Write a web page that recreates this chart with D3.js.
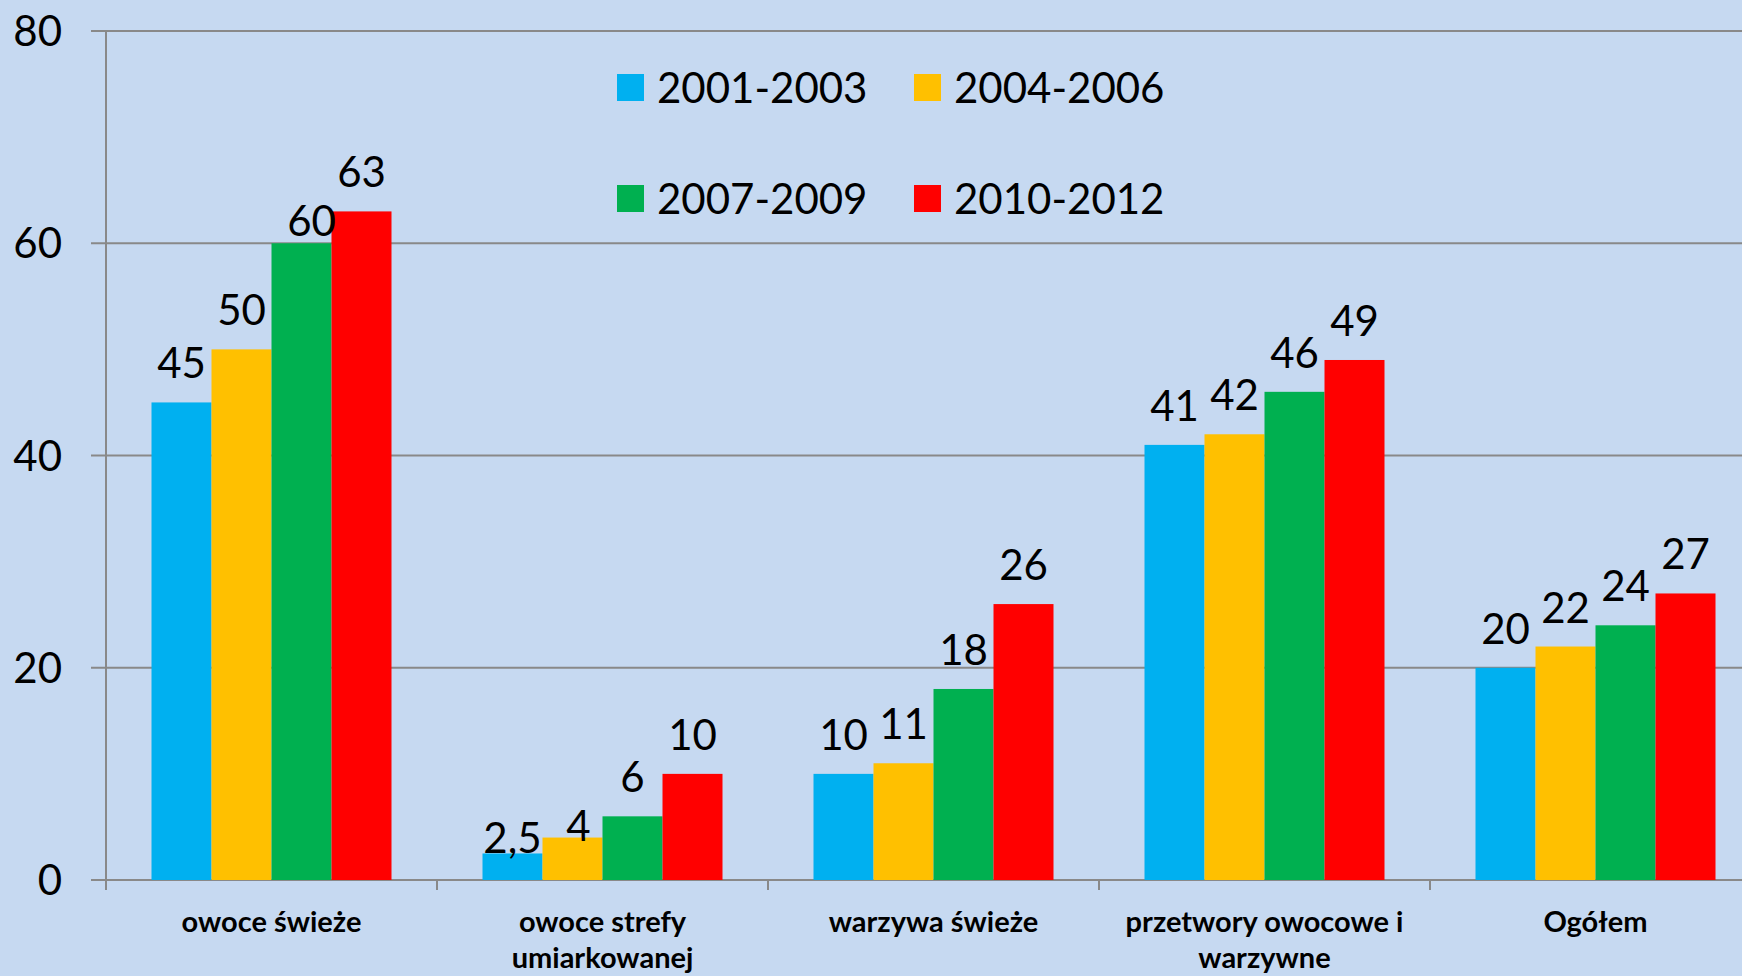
<!DOCTYPE html>
<html>
<head>
<meta charset="utf-8">
<script src="https://cdn.jsdelivr.net/npm/d3@7"></script>
<style>
html,body{margin:0;padding:0;background:#c6d9f1;overflow:hidden;}
text{font-family:Lato,"Open Sans",sans-serif;fill:#000;}
</style>
</head>
<body>
<div id="chart"></div>
<script>
var w=1742;
var h=976;

var categories=[["owoce świeże"],["owoce strefy","umiarkowanej"],["warzywa świeże"],["przetwory owocowe i","warzywne"],["Ogółem"]];
var series=["2001-2003","2004-2006","2007-2009","2010-2012"];
var colors=["#00b0f0","#ffc000","#00b050","#ff0000"];
var v2001=[45,2.5,10,41,20];
var v2004=[50,4,11,42,22];
var v2007=[60,6,18,46,24];
var v2010=[63,10,26,49,27];
var yTicks=[0,20,40,60,80];

var values=[v2001,v2004,v2007,v2010];
var fmt=function(v){return String(v).replace(".",",");};

// hand-moved labels in the original
var nudge={"0-2":[10,17],"1-0":[0,24],"1-1":[6,27]};

var svg=d3.select("#chart").append("svg")
          .attr("width",w)
          .attr("height",h);

svg.append("rect").attr("width",w).attr("height",h).attr("fill","#c6d9f1");

var x0=d3.scaleBand()
         .domain(d3.range(categories.length))
         .range([106,106+331*categories.length])
         .padding(0);

var x1=d3.scaleBand()
         .domain(d3.range(series.length))
         .range([45.5,x0.bandwidth()-45.5])
         .padding(0);

var y=d3.scaleLinear()
        .domain([0,80])
        .range([880,31]);

// gridlines
svg.append("g")
   .selectAll("line")
   .data(yTicks)
   .enter().append("line")
     .attr("x1",91)
     .attr("x2",w)
     .attr("y1",function(d){return y(d);})
     .attr("y2",function(d){return y(d);})
     .attr("stroke","#898989")
     .attr("stroke-width",2);

// y axis line
svg.append("line")
   .attr("x1",106).attr("x2",106)
   .attr("y1",y(80)).attr("y2",y(0)+10)
   .attr("stroke","#898989")
   .attr("stroke-width",2);

svg.append("g")
   .selectAll("text")
   .data(yTicks)
   .enter().append("text")
     .attr("x",62)
     .attr("y",function(d){return y(d);})
     .attr("dy","0.36em")
     .attr("text-anchor","end")
     .style("font-size","42px")
     .text(function(d){return d;});

// x ticks
svg.append("g")
   .selectAll("line")
   .data(d3.range(categories.length))
   .enter().append("line")
     .attr("x1",function(d){return x0(d)+x0.bandwidth();})
     .attr("x2",function(d){return x0(d)+x0.bandwidth();})
     .attr("y1",y(0))
     .attr("y2",y(0)+10)
     .attr("stroke","#898989")
     .attr("stroke-width",2);

var groups=svg.append("g")
              .selectAll("g")
              .data(categories)
              .enter().append("g")
              .attr("transform",function(d,i){return "translate("+x0(i)+",0)";});

groups.selectAll("rect")
      .data(function(d,i){return series.map(function(s,j){return {c:i,s:j,v:values[j][i]};});})
      .enter().append("rect")
        .attr("x",function(d){return x1(d.s);})
        .attr("y",function(d){return y(d.v);})
        .attr("width",x1.bandwidth())
        .attr("height",function(d){return y(0)-y(d.v);})
        .attr("fill",function(d){return colors[d.s];});

groups.selectAll("text.val")
      .data(function(d,i){return series.map(function(s,j){return {c:i,s:j,v:values[j][i]};});})
      .enter().append("text")
        .attr("class","val")
        .attr("x",function(d){var n=nudge[d.c+"-"+d.s];return x1(d.s)+x1.bandwidth()/2+(n?n[0]:0);})
        .attr("y",function(d){var n=nudge[d.c+"-"+d.s];return y(d.v)-24+(n?n[1]:0);})
        .attr("text-anchor","middle")
        .style("font-size","42px")
        .text(function(d){return fmt(d.v);});

groups.each(function(d){
  var t=d3.select(this).append("text")
          .attr("x",x0.bandwidth()/2)
          .attr("y",932)
          .attr("text-anchor","middle")
          .style("font-size","29px")
          .style("font-weight","bold");
  d.forEach(function(line,k){
    t.append("tspan").attr("x",x0.bandwidth()/2).attr("dy",k?36:0).text(line);
  });
});

// legend
var legend=svg.append("g")
              .selectAll("g")
              .data(series)
              .enter().append("g")
              .attr("transform",function(d,i){return "translate("+(617+(i%2)*297)+","+(74+Math.floor(i/2)*111)+")";});

legend.append("rect")
      .attr("width",27)
      .attr("height",27)
      .attr("fill",function(d,i){return colors[i];});

legend.append("text")
      .attr("x",40)
      .attr("y",13.5)
      .attr("dy","0.36em")
      .style("font-size","42px")
      .text(function(d){return d;});
</script>
</body>
</html>
